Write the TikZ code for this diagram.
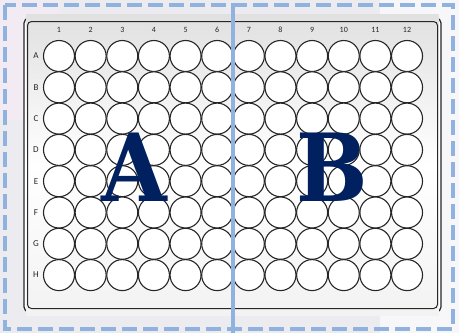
\documentclass[tikz,border=0pt]{standalone}
\usepackage{fontspec}
\setmainfont{Carlito}
\newfontfamily\bigserif{DejaVu Serif Condensed}[BoldFont={DejaVu Serif Condensed Bold}]
\definecolor{dashblue}{HTML}{8FB3DE}
\definecolor{navy}{HTML}{002060}
\definecolor{bggray}{HTML}{ECEBF0}
\definecolor{wellline}{HTML}{262626}
\tikzset{
  well/.style={circle,draw=wellline,line width=1.1pt,fill=white,minimum size=31pt,inner sep=0pt},
  collabel/.style={font=\fontsize{8}{9}\selectfont,text=black!85},
  rowlabel/.style={font=\fontsize{9}{10}\selectfont,text=black!85},
  bigletter/.style={font=\bigserif\bfseries\fontsize{94}{94}\selectfont,text=navy,inner sep=0pt},
  dashframe/.style={draw=dashblue,line width=4pt,dash pattern=on 15pt off 6pt},
}
\begin{document}
\begin{tikzpicture}[x=1pt,y=-1pt]
\useasboundingbox (0,0) rectangle (459,333);
\fill[bggray] (0,0) rectangle (459,333);
\fill[bggray!80!violet!30] (0,0) rectangle (60,120);
\fill[white!60!bggray] (380,0) rectangle (459,333);
% plate
\node[draw=black!85,line width=1.2pt,rounded corners=5pt,minimum width=417pt,minimum height=294pt,inner sep=0pt,fill=white] (plateouter) at (232.5,165) {};
\shade[top color=black!12,bottom color=black!5,middle color=white] ([shift={(3,-3)}]plateouter.north west) rectangle ([shift={(-3,3)}]plateouter.south east);
\node[draw=black!85,line width=1pt,rounded corners=4pt,minimum width=410pt,minimum height=287pt,inner sep=0pt] (plateinner) at (232.5,165) {};
% wells
\foreach \r [count=\i from 0] in {A,B,C,D,E,F,G,H}{
  \node[rowlabel] (row\r) at (36,{56+31.3*\i}) {\r};
  \foreach \c in {1,...,12}{
    \node[well] (w\r\c) at ({59+31.64*(\c-1)},{56+31.3*\i}) {};
  }
}
\foreach \c in {1,...,12}{
  \node[collabel] (col\c) at ({59+31.64*(\c-1)},30) {\c};
}
% letters
\node[bigletter] (letA) at (134.5,167.5) {A};
\node[bigletter] (letB) at (332,167.5) {B};
% dashed frame
\draw[dashframe] (5,5) rectangle (453,329);
% divider
\coordinate (divtop) at (232.5,3);
\coordinate (divbot) at (232.5,333);
\draw[dashblue,line width=4pt] (divtop) -- (divbot);
\end{tikzpicture}
\end{document}
